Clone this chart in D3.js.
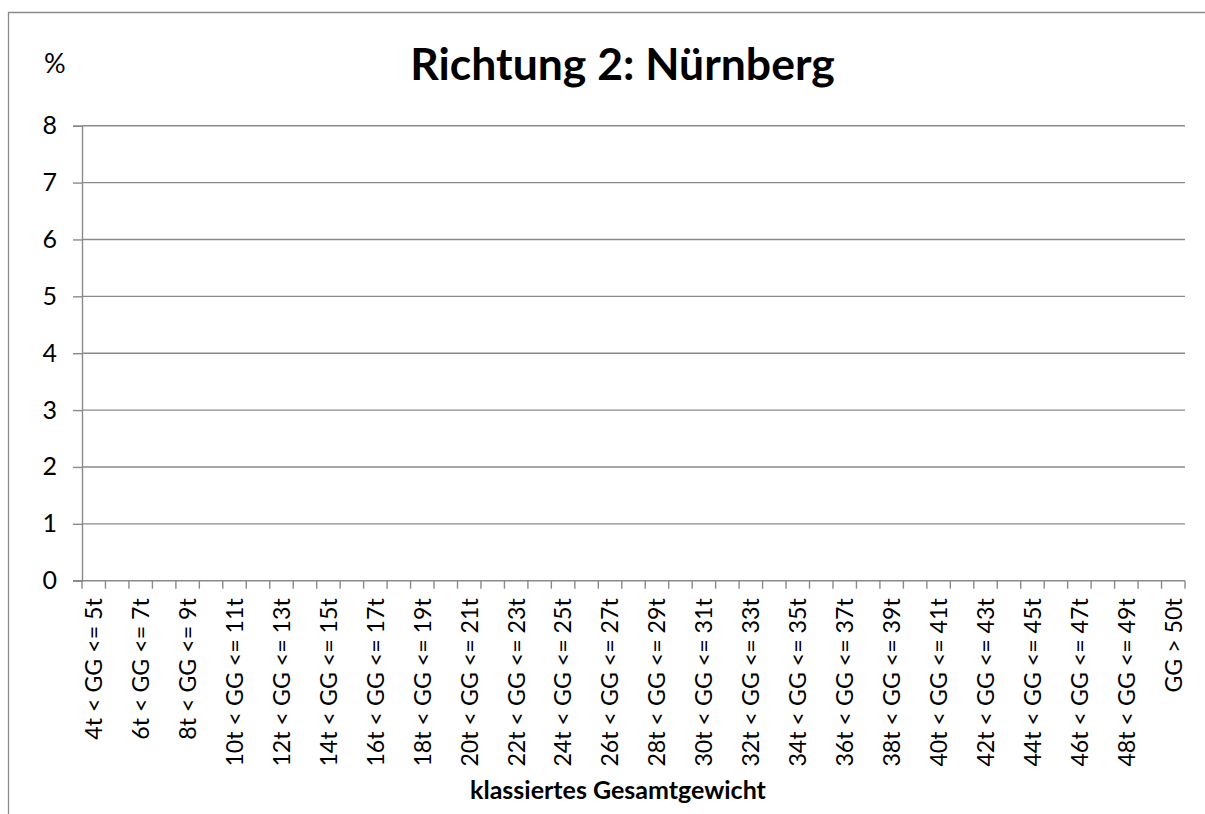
<!DOCTYPE html>
<html>
<head>
<meta charset="utf-8">
<script src="https://cdn.jsdelivr.net/npm/d3@7"></script>
<style>
  html, body { margin: 0; padding: 0; background: #fff; }
  svg { display: block; }
  text { font-family: Lato, "Open Sans", sans-serif; fill: #000; }
</style>
</head>
<body>
<svg id="chart" width="1205" height="814"></svg>
<script>
// ---- data ----
const title = "Richtung 2: Nürnberg";
const yUnit = "%";
const xTitle = "klassiertes Gesamtgewicht";
const categories = [
  "4t < GG <= 5t", "5t < GG <= 6t", "6t < GG <= 7t", "7t < GG <= 8t",
  "8t < GG <= 9t", "9t < GG <= 10t", "10t < GG <= 11t", "11t < GG <= 12t",
  "12t < GG <= 13t", "13t < GG <= 14t", "14t < GG <= 15t", "15t < GG <= 16t",
  "16t < GG <= 17t", "17t < GG <= 18t", "18t < GG <= 19t", "19t < GG <= 20t",
  "20t < GG <= 21t", "21t < GG <= 22t", "22t < GG <= 23t", "23t < GG <= 24t",
  "24t < GG <= 25t", "25t < GG <= 26t", "26t < GG <= 27t", "27t < GG <= 28t",
  "28t < GG <= 29t", "29t < GG <= 30t", "30t < GG <= 31t", "31t < GG <= 32t",
  "32t < GG <= 33t", "33t < GG <= 34t", "34t < GG <= 35t", "35t < GG <= 36t",
  "36t < GG <= 37t", "37t < GG <= 38t", "38t < GG <= 39t", "39t < GG <= 40t",
  "40t < GG <= 41t", "41t < GG <= 42t", "42t < GG <= 43t", "43t < GG <= 44t",
  "44t < GG <= 45t", "45t < GG <= 46t", "46t < GG <= 47t", "47t < GG <= 48t",
  "48t < GG <= 49t", "49t < GG <= 50t", "GG > 50t"
];
// the reference shows no visible bars: every share is 0 %
const values = [
  0, 0, 0, 0, 0, 0, 0, 0, 0, 0, 0, 0, 0, 0, 0, 0,
  0, 0, 0, 0, 0, 0, 0, 0, 0, 0, 0, 0, 0, 0, 0, 0,
  0, 0, 0, 0, 0, 0, 0, 0, 0, 0, 0, 0, 0, 0, 0
];
const yTicks = [0, 1, 2, 3, 4, 5, 6, 7, 8];

// ---- layout ----
const W = 1205, H = 814;
const plot = { left: 82, right: 1185, top: 125.7, bottom: 580.7 };
const grey = "#8a8a8a";

const svg = d3.select("#chart");

// outer chart frame (left and top edges visible)
svg.append("path")
  .attr("d", `M8.5,${H} V12.5 H${W}`)
  .attr("fill", "none").attr("stroke", grey).attr("stroke-width", 1.3);

const x = d3.scaleBand().domain(categories).range([plot.left, plot.right]).padding(0);
const y = d3.scaleLinear().domain([0, 8]).range([plot.bottom, plot.top]);

// gridlines
svg.append("g").selectAll("line").data(yTicks.filter(d => d > 0)).join("line")
  .attr("x1", plot.left).attr("x2", plot.right)
  .attr("y1", d => y(d)).attr("y2", d => y(d))
  .attr("stroke", grey).attr("stroke-width", 1.4);

// bars (all zero height)
svg.append("g").selectAll("rect").data(categories).join("rect")
  .attr("x", d => x(d) + x.bandwidth() * 0.2)
  .attr("width", x.bandwidth() * 0.6)
  .attr("y", (d, i) => y(values[i]))
  .attr("height", (d, i) => y(0) - y(values[i]))
  .attr("fill", "#4f81bd");

// y axis
const yAxis = d3.axisLeft(y).tickValues(yTicks).tickSize(9).tickPadding(16).tickFormat(d3.format("d"));
const gy = svg.append("g").attr("transform", `translate(${plot.left},0)`).call(yAxis);
gy.select(".domain").attr("stroke", grey).attr("stroke-width", 1.4);
gy.selectAll(".tick line").attr("stroke", grey).attr("stroke-width", 1.4);
gy.selectAll(".tick text").attr("font-size", 25).attr("font-family", "Lato").attr("fill", "#000");

// x axis: ticks at band boundaries
const boundaries = categories.map(c => x(c)).concat([plot.right]);
const gx = svg.append("g");
gx.append("line")
  .attr("x1", plot.left - 9).attr("x2", plot.right)
  .attr("y1", plot.bottom).attr("y2", plot.bottom)
  .attr("stroke", grey).attr("stroke-width", 1.4);
gx.selectAll("line.tk").data(boundaries).join("line").attr("class", "tk")
  .attr("x1", d => d).attr("x2", d => d)
  .attr("y1", plot.bottom).attr("y2", plot.bottom + 8)
  .attr("stroke", grey).attr("stroke-width", 1.4);
gx.selectAll("text").data(categories.filter((c, i) => i % 2 === 0)).join("text")
  .attr("transform", d => `translate(${x(d) + x.bandwidth() / 2},${plot.bottom + 17.5}) rotate(-90)`)
  .attr("text-anchor", "end")
  .attr("dy", "0.36em")
  .attr("font-size", 23.2)
  .text(d => d);

// texts
svg.append("text").attr("x", 622.5).attr("y", 80).attr("text-anchor", "middle")
  .attr("font-size", 44.5).attr("font-weight", 700).text(title);
svg.append("text").attr("x", 44).attr("y", 73)
  .attr("font-size", 27).text(yUnit);
svg.append("text").attr("x", 618).attr("y", 799).attr("text-anchor", "middle")
  .attr("font-size", 25).attr("font-weight", 700).text(xTitle);
</script>
</body>
</html>
